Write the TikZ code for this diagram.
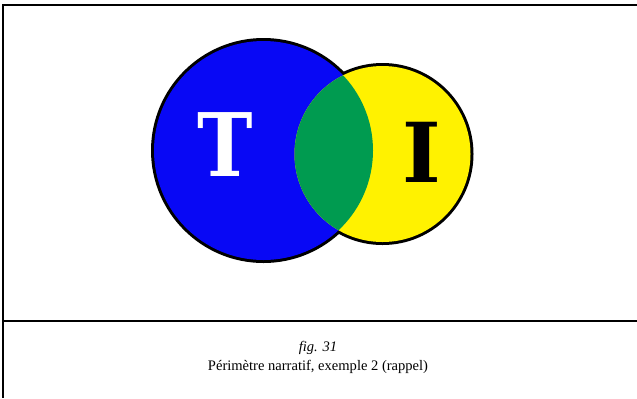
\documentclass[tikz,border=0pt]{standalone}
\usepackage{fontspec}
\usepackage{tikz}
\usepackage{xcolor}
\setmainfont{Liberation Serif}
\newfontfamily\letterfont{DejaVu Serif}

\definecolor{setblue}{RGB}{8,8,245}
\definecolor{setyellow}{RGB}{255,242,0}
\definecolor{setgreen}{RGB}{0,155,80}

\tikzset{
  frameline/.style={line width=2bp,black},
  setrim/.style={line width=6bp,black},
  bigletter/.style={inner sep=0pt,font=\letterfont\bfseries\fontsize{88}{88}\selectfont},
  captext/.style={inner sep=0pt,font=\fontsize{14.6}{16}\selectfont}
}

\begin{document}
\begin{tikzpicture}[x=1bp,y=1bp]
\useasboundingbox (0,0) rectangle (637,-398);
\fill[white] (0,0) rectangle (637,-398);
% frame
\draw[frameline] (637,-4.5) -- (3,-4.5) -- (3,-398);
\draw[frameline] (3,-320.5) -- (637,-320.5);
% the two sets
\coordinate (tc) at (263.5,-150.5);
\coordinate (ic) at (382.5,-154);
\draw[setrim] (tc) circle (109.5);
\draw[setrim] (ic) circle (88);
\fill[setblue] (tc) circle (109.5);
\fill[setyellow] (ic) circle (88);
\begin{scope}
\clip (tc) circle (109.5);
\fill[setgreen] (ic) circle (88);
\end{scope}
\node[bigletter,white,xscale=0.85] (tl) at (225,-145) {T};
\node[bigletter,black,font=\letterfont\bfseries\fontsize{83}{83}\selectfont] (il) at (422,-152) {I};
% caption
\node[captext] (fig) at (318,-348) {\itshape fig. 31};
\node[captext] (cap) at (318,-367) {Périmètre narratif, exemple 2 (rappel)};
\end{tikzpicture}
\end{document}
